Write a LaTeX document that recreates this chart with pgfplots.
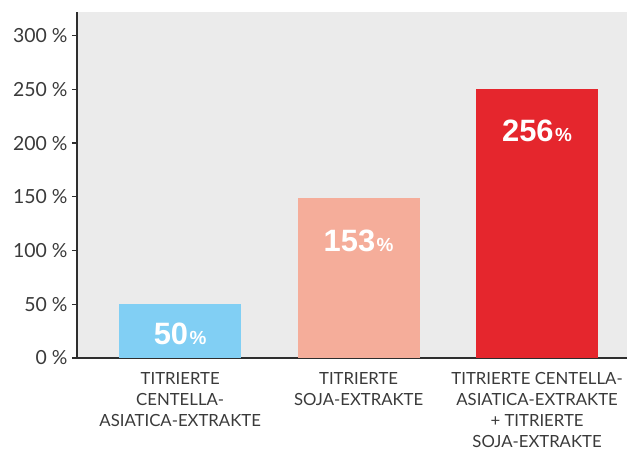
\documentclass[border=0pt]{standalone}
\usepackage{pgfplots}
\pgfplotsset{compat=1.18}
\usepackage{fontspec}
\setmainfont{Lato}
\newfontfamily\barfont{Liberation Sans}
\definecolor{bgc}{HTML}{EBEBEB}
\definecolor{cblue}{HTML}{81CFF4}
\definecolor{csalmon}{HTML}{F5AD9A}
\definecolor{cred}{HTML}{E5262D}
\definecolor{txt}{HTML}{3A3A3A}
\definecolor{axc}{HTML}{2E2E2E}
\begin{document}
\begin{tikzpicture}
\begin{axis}[
  name=ax,
  scale only axis,
  width=550bp, height=346bp,
  xmin=-0.578, xmax=2.504,
  ymin=0, ymax=322,
  axis background/.style={fill=bgc},
  axis x line*=bottom, axis y line*=left,
  axis line style={axc, line width=1.6pt, -},
  ytick={0,50,100,150,200,250,300},
  yticklabels={0~\%,50~\%,100~\%,150~\%,200~\%,250~\%,300~\%},
  ytick style={axc, line width=1.2pt},
  tick align=outside,
  major tick length=5bp,
  xtick={0,1,2},
  xtick style={draw=none},
  xticklabels={{TITRIERTE\\CENTELLA-\\ASIATICA-EXTRAKTE},{TITRIERTE\\SOJA-EXTRAKTE},{TITRIERTE CENTELLA-\\ASIATICA-EXTRAKTE\\+ TITRIERTE\\SOJA-EXTRAKTE}},
  xticklabel style={align=center, font=\fontsize{16.8}{21}\selectfont, text=txt, anchor=north, yshift=-6bp},
  yticklabel style={font=\fontsize{19.5}{20}\selectfont, text=txt, xshift=-1bp},
  /pgf/number format/assume math mode=true,
  ybar, bar width=122bp, bar shift=0pt,
  clip=false,
]
\addplot[fill=cblue, draw=none] coordinates {(0,50)};
\addplot[fill=csalmon, draw=none] coordinates {(1,148.6)};
\addplot[fill=cred, draw=none] coordinates {(2,250)};
\node[text=white, font=\barfont\bfseries] at (axis cs:0,22) {\fontsize{31}{31}\selectfont 50\fontsize{19}{19}\selectfont\kern1.5bp\%};
\node[text=white, font=\barfont\bfseries] at (axis cs:1,109) {\fontsize{31}{31}\selectfont 153\fontsize{19}{19}\selectfont\kern1.5bp\%};
\node[text=white, font=\barfont\bfseries] at (axis cs:2,211) {\fontsize{31}{31}\selectfont 256\fontsize{19}{19}\selectfont\kern1.5bp\%};
\end{axis}
\pgfresetboundingbox
\path ([shift={(-77bp,-93.5bp)}]ax.south west) rectangle ([shift={(0bp,12bp)}]ax.north east);
\end{tikzpicture}
\end{document}
